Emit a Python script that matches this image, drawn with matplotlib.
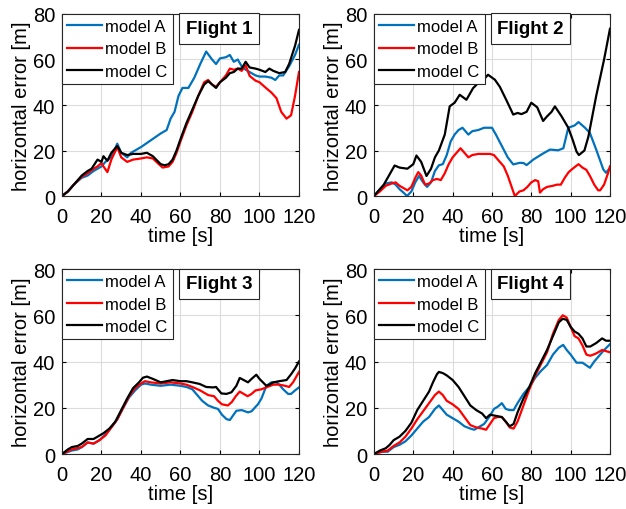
import numpy as np
import matplotlib.pyplot as plt

plt.rcParams['font.family'] = ['Liberation Sans', 'DejaVu Sans']

# ---- Flight 1 ----
t1a = [0, 3, 6, 10, 13, 16, 18, 20, 22, 25, 28, 30, 33, 35, 40, 45, 50, 53, 55, 57, 59, 61, 64, 67, 70, 73,
       76, 78, 80, 83, 85, 87, 89, 91, 93, 95, 98, 100, 103, 106, 108, 110, 112, 115, 118, 120]
e1a = [0, 2, 5, 8, 9, 11, 12, 13, 15, 17, 23, 19, 17, 19, 21.5, 24.5, 27.5, 29, 34, 37, 44, 47.5, 47.5, 52, 58, 63.5,
       60, 58, 60.5, 61, 62, 59, 60, 57, 55.5, 54.5, 53, 52.5, 52.5, 52, 51, 53, 53, 57, 62, 66.5]
t1b = [0, 3, 6, 10, 13, 16, 18, 20, 21, 23, 25, 28, 30, 33, 36, 40, 43, 46, 49, 51, 54, 56, 58, 60, 63, 66, 69, 72,
       74, 76, 78, 80, 83, 85, 87, 89, 91, 93, 95, 98, 100, 103, 106, 108.6, 111, 113.7, 116, 118, 120]
e1b = [0, 2, 5, 8.5, 10, 12, 13, 14.5, 13, 10.5, 16, 21.5, 17, 15, 16, 16.5, 17, 16.5, 14, 12.5, 13, 15, 19, 24, 31,
       37, 44, 50, 51, 49, 48, 50, 53, 56, 55.5, 56, 55, 57.5, 52.8, 50.7, 50, 47.7, 45.5, 43, 37, 34, 35.5, 44, 54.5]
t1c = [0, 3, 6, 10, 13, 15, 18, 20, 21, 23, 25, 28, 30, 33, 36, 40, 43, 46, 50, 52, 54, 56, 58, 60, 63, 66, 69, 72,
       74, 76, 78, 80, 83, 85, 87, 89, 91, 93, 95, 98, 100, 103, 105, 107, 110, 113, 115, 118, 120]
e1c = [0, 2, 5, 9, 11, 12, 16, 15, 17.5, 15.5, 19, 22, 19, 18, 18.5, 18.5, 19, 17.5, 14, 13.5, 14, 16, 20, 25, 32,
       38, 44, 49, 50.5, 49, 47.5, 50, 52, 54, 54.5, 56, 56, 59, 56.5, 56, 55.5, 54.5, 56, 55, 54, 54.5, 58, 66, 73]

# ---- Flight 2 ----
t2a = [0, 3, 6, 9, 11, 13, 15, 16.8, 19, 21, 22.9, 25, 27, 29, 31, 33, 35, 37, 39, 41, 43, 45, 47, 48, 50, 53, 56,
       60, 62, 65, 68, 70.8, 74.2, 76, 77.6, 81, 86, 89.5, 93.7, 96.3, 98.8, 102, 104, 107.3, 109.8, 113, 116.6,
       118, 120]
e2a = [0, 3, 5.5, 6, 5, 3, 1.5, 0, 2, 6, 8.8, 6, 4, 6, 11, 13.5, 14, 18, 24, 27, 29, 30, 28, 27, 28.5, 29, 30,
       30, 27, 22, 17, 13.9, 14.6, 14.5, 13.6, 16, 18.7, 20.4, 20.1, 21, 30, 31, 32.5, 30, 27.7, 20.4, 11.7,
       10.2, 12.4]
t2b = [0, 3, 6, 9, 11, 13, 15, 17, 19, 21, 22.5, 24, 26, 28, 30, 32, 34, 36, 38, 40, 42, 44, 46, 48, 50, 53, 56,
       59, 61, 63, 66, 68, 70, 71.6, 74, 76, 78, 80, 82, 83.5, 84.4, 86, 88, 91, 93, 95, 97, 99, 101, 104, 106,
       108, 110, 112, 114, 115, 117, 119, 120]
e2b = [0, 2, 4.5, 5.5, 6, 4.5, 3.5, 2.5, 4, 8, 10.5, 9, 5, 5.5, 7, 7.5, 7, 10, 14, 17, 19, 21, 19, 17, 18, 18.5,
       18.5, 18.5, 18, 16, 13, 9, 4, 0, 2, 2.5, 4, 6, 7, 6.5, 1.5, 3, 4, 4.5, 5, 5, 8, 10.5, 12, 14, 12.5, 11.5,
       8.5, 5, 2.5, 2.5, 5, 10, 13]
t2c = [0, 5, 10.5, 13, 17, 20, 21.6, 24, 26.7, 29, 31, 33, 36, 38.5, 41, 43.6, 47, 50.4, 53.8, 56.4, 58, 61.5, 64,
       67.4, 70.8, 73, 75, 77.6, 80, 83, 86, 88, 90.3, 92, 95.4, 98.8, 101, 103, 104.2, 107, 109, 111, 113, 115,
       117, 120]
e2c = [0, 5, 13.4, 12.5, 12, 14, 17.8, 15, 8.8, 12, 17, 20, 27, 39.4, 41, 44.5, 42.3, 47.4, 50.4, 51.8, 53.3, 51.1,
       48, 42, 35.8, 36.5, 36, 37, 41, 39, 33, 35, 37, 39.4, 35, 30, 24.8, 19.5, 18, 20, 26, 35, 44, 52, 60, 73.5]

# ---- Flight 3 ----
t3a = [0, 5, 8, 10, 13, 16, 19, 22, 25, 28, 31, 34, 37, 40, 42, 45, 50, 55, 60, 63, 66, 68, 71, 74, 77, 79, 81,
       83.3, 85, 88.3, 91, 94.2, 96, 99.3, 101, 103.5, 106, 108.6, 110, 112, 114.5, 116, 118, 120]
e3a = [0, 1.5, 2, 3, 5, 4.5, 6, 8.5, 11.5, 15, 20, 24.5, 27.5, 30, 30.5, 30, 29.5, 30, 29.5, 29, 28, 26, 23, 21,
       20, 19.5, 17, 15.1, 14.7, 18.7, 19, 18, 18.5, 21.6, 24, 29.5, 31, 31, 30, 28, 26, 26, 27.5, 28.8]
t3b = [0, 5, 10, 13, 16, 19, 22, 25, 28, 31, 34, 37, 40, 42, 45, 50, 55, 60, 63, 66, 70, 74, 77, 79, 81, 84, 86,
       88, 90, 92, 94, 96, 98, 101, 104, 107, 110, 113, 115, 117, 120]
e3b = [0, 2, 3, 5, 4.5, 6, 8, 11.5, 15, 20, 25, 28.5, 30.5, 31.5, 31, 30.5, 31, 30.5, 30, 29, 27.5, 25.5, 25, 23,
       21.5, 21, 22.5, 25, 27, 26, 25, 26, 27.5, 28, 29, 30, 30, 29.5, 29, 31, 35.5]
t3c = [0, 3, 5, 8, 10, 13, 16, 19, 21, 24, 27, 30, 33, 36, 39, 41, 43, 46, 50, 53, 56, 60, 63, 66, 69.7, 73, 76.5,
       78, 80.7, 83.3, 85.8, 88.3, 90, 92, 94.2, 96, 98.4, 100, 103.5, 105, 107, 110, 113.7, 116, 118, 120]
e3c = [0, 2, 3, 3.5, 4.5, 6.5, 6.5, 8, 9, 11, 14, 19, 24, 28.5, 31, 33, 33.5, 32.5, 31, 31.5, 32, 31.5, 31.5, 31,
       30.3, 29, 28.8, 29, 26.2, 26, 26.7, 29.5, 32.9, 32, 31, 32.5, 34.3, 32.5, 29.5, 30, 31, 31.5, 32, 34.5,
       37, 40]

# ---- Flight 4 ----
t4a = [0, 4, 7, 10, 13, 16, 19, 22, 25, 28, 31, 33, 35, 37, 40, 43, 46, 49, 51, 53, 56, 59, 61, 63, 65, 67, 69,
       71, 73, 76, 79, 82, 85, 88, 91, 94, 96.2, 98, 100, 103, 106, 109.8, 112, 116.6, 120]
e4a = [0, 1, 1, 3, 4, 5.5, 8, 11, 14, 16, 19.5, 21, 19, 17, 15.5, 14, 12, 11, 10.5, 11.5, 13, 16.5, 19.5, 20.5,
       22, 19.5, 19, 19, 22, 26, 29, 33, 36, 38.5, 43, 46, 47.2, 45, 43, 39.5, 39.5, 37.3, 40, 44.6, 47.5]
t4b = [0, 4, 7, 10, 13, 16, 19, 22, 25, 28, 31, 33, 35, 37, 40, 43, 46, 49, 52, 55, 57, 59, 61, 63, 65, 67, 69,
       71, 73, 76, 79, 82, 85, 88, 91, 94, 96, 98, 100, 102, 104, 106, 108, 110, 113, 116, 118, 120]
e4b = [0, 1, 1.5, 3.5, 5, 7.5, 11, 15, 18.5, 22, 25.5, 27, 25.5, 23, 21.5, 19.5, 16, 12.5, 11.5, 11, 10.5, 13,
       15.5, 16, 16, 14, 11.5, 11, 14, 21, 28, 34, 39, 44, 52, 58, 60, 59, 55, 51, 50, 47, 43, 42.5, 43.5, 45,
       44.5, 44]
t4c = [0, 3, 6, 8, 10, 13, 16, 19, 22, 25, 28, 30, 32, 33, 35, 37, 40, 43, 46, 49, 52, 55, 57, 59, 62, 65, 67, 69,
       71, 73, 76, 79, 82, 85, 88, 91, 94, 96, 98, 100, 102, 104, 106, 108, 110, 113, 116, 118, 120]
e4c = [0, 1.5, 2.5, 4, 6, 7.5, 10, 13.5, 19, 23, 27, 31, 34.5, 35.5, 35, 34, 32, 29, 25, 21, 19, 17.5, 15.5, 17,
       16.5, 16, 14, 12, 13, 18, 24, 29, 35, 40, 45, 51, 57, 58.5, 58, 55, 53, 52, 50, 46.5, 46.5, 48, 50, 49, 49]

flights = ['Flight 1', 'Flight 2', 'Flight 3', 'Flight 4']
models = ['model A', 'model B', 'model C']
colors = ['#0072BD', '#FF0000', '#000000']
series = [
    [(t1a, e1a), (t1b, e1b), (t1c, e1c)],
    [(t2a, e2a), (t2b, e2b), (t2c, e2c)],
    [(t3a, e3a), (t3b, e3b), (t3c, e3c)],
    [(t4a, e4a), (t4b, e4b), (t4c, e4c)],
]

fig = plt.figure(figsize=(6.26, 5.10), dpi=100)
positions = [
    [0.099, 0.6137, 0.3786, 0.3569],
    [0.5974, 0.6137, 0.377, 0.3569],
    [0.099, 0.1078, 0.3786, 0.3627],
    [0.5974, 0.1078, 0.377, 0.3627],
]

for k in range(4):
    ax = fig.add_axes(positions[k])
    for (t, e), name, c in zip(series[k], models, colors):
        ax.plot(t, e, color=c, lw=1.6, label=name)
    ax.set_xlim(0, 120)
    ax.set_ylim(0, 80)
    ax.set_xticks(np.arange(0, 121, 20))
    ax.set_yticks(np.arange(0, 81, 20))
    ax.grid(True, color='#dcdcdc', lw=0.8)
    ax.set_axisbelow(True)
    ax.tick_params(direction='in', top=True, right=True, labelsize=14.5, length=3)
    ax.tick_params(axis='x', pad=8)
    ax.tick_params(axis='y', pad=5)
    for s in ax.spines.values():
        s.set_color('#262626')
        s.set_linewidth(0.8)
    ax.set_xlabel('time [s]', fontsize=14.5, labelpad=0)
    ax.set_ylabel('horizontal error [m]', fontsize=14.5, labelpad=1)
    leg = ax.legend(loc='upper left', fontsize=12, borderaxespad=0, fancybox=False,
                    framealpha=1, edgecolor='#262626', handlelength=2.1, handletextpad=0.2,
                    labelspacing=0.45, borderpad=0.3)
    leg.get_frame().set_linewidth(0.8)
    ax.text(0.663, 0.92, flights[k], transform=ax.transAxes, fontsize=13.5, fontweight='bold',
            ha='center', va='center',
            bbox=dict(boxstyle='square,pad=0.35', fc='white', ec='#262626', lw=0.8))

fig.savefig('out.png', dpi=100)
